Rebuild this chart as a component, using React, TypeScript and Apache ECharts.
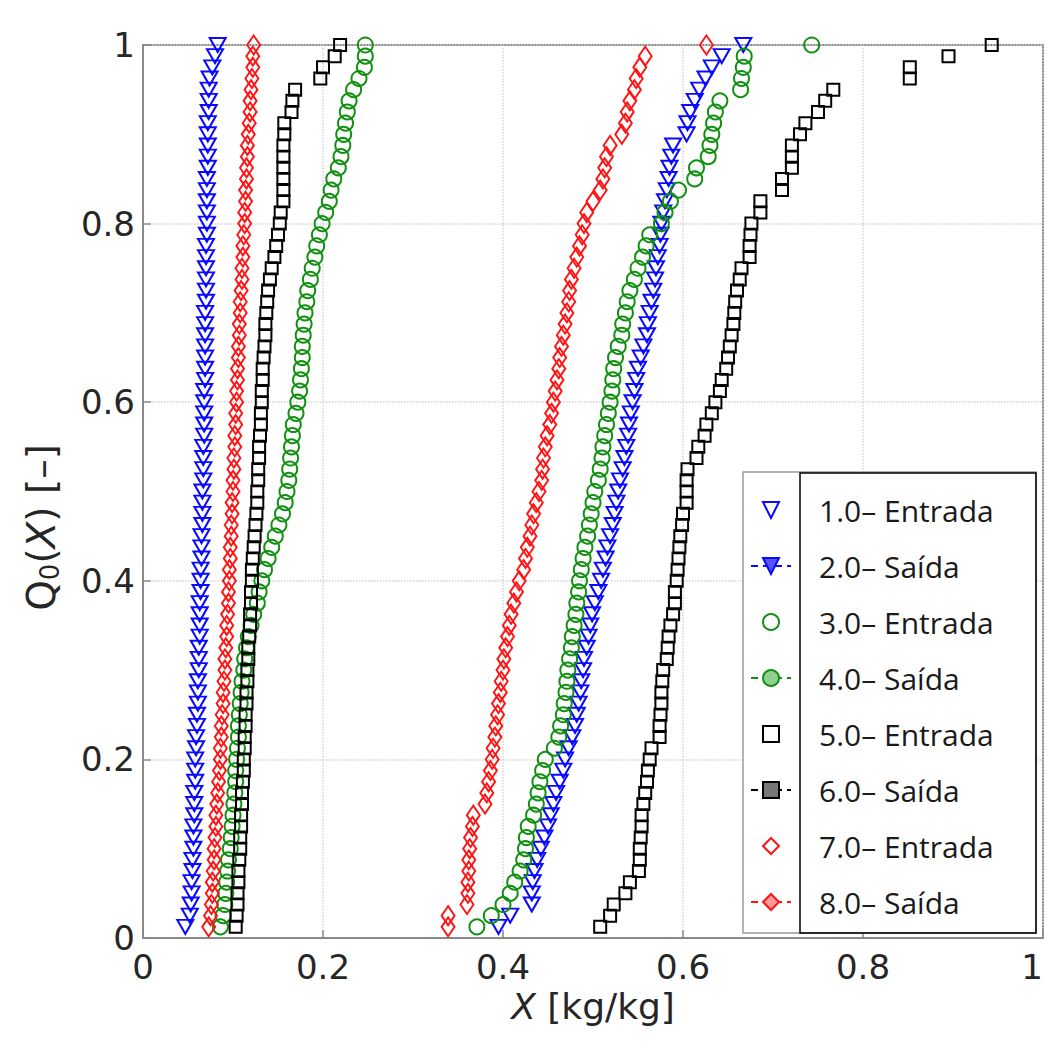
import React, { useEffect, useRef } from "react";
import * as echarts from "echarts";

// Q0(X) levels (empirical cumulative fraction), 80 samples per series
const qLevels = [
  0.0125, 0.025, 0.0375, 0.05, 0.0625, 0.075, 0.0875, 0.1, 0.1125, 0.125,
  0.1375, 0.15, 0.1625, 0.175, 0.1875, 0.2, 0.2125, 0.225, 0.2375, 0.25,
  0.2625, 0.275, 0.2875, 0.3, 0.3125, 0.325, 0.3375, 0.35, 0.3625, 0.375,
  0.3875, 0.4, 0.4125, 0.425, 0.4375, 0.45, 0.4625, 0.475, 0.4875, 0.5,
  0.5125, 0.525, 0.5375, 0.55, 0.5625, 0.575, 0.5875, 0.6, 0.6125, 0.625,
  0.6375, 0.65, 0.6625, 0.675, 0.6875, 0.7, 0.7125, 0.725, 0.7375, 0.75,
  0.7625, 0.775, 0.7875, 0.8, 0.8125, 0.825, 0.8375, 0.85, 0.8625, 0.875,
  0.8875, 0.9, 0.9125, 0.925, 0.9375, 0.95, 0.9625, 0.975, 0.9875, 1,
];

const seriesNames = [
  "1.0– Entrada",
  "2.0– Saída",
  "3.0– Entrada",
  "4.0– Saída",
  "5.0– Entrada",
  "6.0– Saída",
  "7.0– Entrada",
  "8.0– Saída",
];

const x1Entrada = [
  0.395, 0.408, 0.432, 0.432, 0.433, 0.435, 0.438, 0.442, 0.446, 0.45,
  0.453, 0.456, 0.459, 0.463, 0.467, 0.469, 0.473, 0.477, 0.48, 0.482,
  0.484, 0.486, 0.487, 0.489, 0.49, 0.493, 0.495, 0.497, 0.499, 0.502,
  0.506, 0.509, 0.511, 0.514, 0.516, 0.519, 0.522, 0.524, 0.526, 0.528,
  0.53, 0.533, 0.535, 0.537, 0.539, 0.54, 0.542, 0.544, 0.546, 0.548,
  0.55, 0.553, 0.556, 0.56, 0.561, 0.563, 0.565, 0.567, 0.569, 0.57,
  0.572, 0.574, 0.575, 0.576, 0.578, 0.58, 0.582, 0.584, 0.585, 0.587,
  0.589, 0.604, 0.605, 0.608, 0.613, 0.618, 0.625, 0.632, 0.643, 0.667,
];

const x2Saida = [
  0.047, 0.052, 0.053, 0.054, 0.054, 0.055, 0.055, 0.056, 0.056, 0.056,
  0.057, 0.057, 0.057, 0.058, 0.058, 0.058, 0.059, 0.059, 0.06, 0.06,
  0.061, 0.061, 0.061, 0.062, 0.062, 0.062, 0.063, 0.063, 0.063, 0.063,
  0.064, 0.064, 0.064, 0.065, 0.065, 0.065, 0.066, 0.066, 0.066, 0.066,
  0.067, 0.067, 0.067, 0.067, 0.068, 0.068, 0.068, 0.068, 0.068, 0.069,
  0.069, 0.069, 0.069, 0.069, 0.069, 0.069, 0.07, 0.07, 0.07, 0.07,
  0.07, 0.07, 0.071, 0.071, 0.071, 0.071, 0.071, 0.071, 0.072, 0.072,
  0.072, 0.072, 0.072, 0.073, 0.073, 0.073, 0.074, 0.077, 0.08, 0.083,
];

const x3Entrada = [
  0.371, 0.387, 0.4, 0.408, 0.413, 0.419, 0.423, 0.425, 0.426, 0.428,
  0.434, 0.437, 0.439, 0.441, 0.444, 0.447, 0.457, 0.462, 0.464, 0.467,
  0.468, 0.47, 0.471, 0.472, 0.474, 0.476, 0.477, 0.479, 0.481, 0.482,
  0.484, 0.485, 0.487, 0.489, 0.491, 0.494, 0.496, 0.498, 0.5, 0.502,
  0.506, 0.508, 0.51, 0.511, 0.513, 0.515, 0.517, 0.519, 0.521, 0.522,
  0.523, 0.525, 0.528, 0.532, 0.533, 0.536, 0.538, 0.541, 0.546, 0.55,
  0.555, 0.559, 0.563, 0.576, 0.58, 0.586, 0.595, 0.613, 0.615, 0.628,
  0.63, 0.632, 0.634, 0.636, 0.641, 0.664, 0.665, 0.667, 0.668, 0.743,
];

const x4Saida = [
  0.086, 0.089, 0.091, 0.092, 0.093, 0.094, 0.095, 0.097, 0.098, 0.099,
  0.1, 0.101, 0.102, 0.103, 0.103, 0.104, 0.105, 0.106, 0.106, 0.107,
  0.108, 0.109, 0.11, 0.112, 0.113, 0.115, 0.117, 0.12, 0.123, 0.127,
  0.129, 0.132, 0.135, 0.139, 0.143, 0.147, 0.151, 0.155, 0.158, 0.16,
  0.162, 0.163, 0.164, 0.165, 0.166, 0.167, 0.17, 0.172, 0.174, 0.175,
  0.176, 0.177, 0.177, 0.178, 0.179, 0.18, 0.182, 0.183, 0.186, 0.188,
  0.191, 0.193, 0.196, 0.199, 0.203, 0.207, 0.209, 0.212, 0.217, 0.22,
  0.222, 0.223, 0.225, 0.227, 0.229, 0.234, 0.24, 0.246, 0.247, 0.247,
];

const x5Entrada = [
  0.508, 0.519, 0.523, 0.536, 0.541, 0.551, 0.552, 0.552, 0.553, 0.554,
  0.554, 0.556, 0.558, 0.56, 0.561, 0.563, 0.565, 0.574, 0.574, 0.575,
  0.576, 0.576, 0.577, 0.578, 0.582, 0.583, 0.584, 0.586, 0.589, 0.591,
  0.591, 0.593, 0.594, 0.595, 0.596, 0.597, 0.599, 0.6, 0.604, 0.604,
  0.604, 0.605, 0.615, 0.617, 0.624, 0.626, 0.632, 0.636, 0.641, 0.643,
  0.648, 0.65, 0.652, 0.654, 0.656, 0.657, 0.658, 0.66, 0.663, 0.665,
  0.674, 0.674, 0.675, 0.676, 0.686, 0.686, 0.71, 0.71, 0.721, 0.721,
  0.721, 0.73, 0.736, 0.75, 0.758, 0.767, 0.852, 0.852, 0.895, 0.943,
];

const x6Saida = [
  0.103, 0.104, 0.105, 0.105, 0.106, 0.106, 0.107, 0.108, 0.108, 0.109,
  0.109, 0.11, 0.11, 0.111, 0.112, 0.112, 0.113, 0.113, 0.114, 0.114,
  0.115, 0.115, 0.116, 0.116, 0.117, 0.117, 0.118, 0.119, 0.119, 0.12,
  0.12, 0.121, 0.121, 0.122, 0.123, 0.124, 0.125, 0.126, 0.127, 0.127,
  0.128, 0.128, 0.129, 0.129, 0.13, 0.131, 0.131, 0.132, 0.132, 0.133,
  0.133, 0.134, 0.135, 0.136, 0.136, 0.137, 0.138, 0.139, 0.141, 0.143,
  0.146, 0.148, 0.15, 0.152, 0.153, 0.156, 0.156, 0.156, 0.156, 0.156,
  0.156, 0.157, 0.157, 0.165, 0.166, 0.169, 0.197, 0.2, 0.213, 0.219,
];

const x7Entrada = [
  0.339, 0.339, 0.36, 0.361, 0.361, 0.362, 0.362, 0.363, 0.364, 0.366,
  0.367, 0.38, 0.382, 0.384, 0.386, 0.388, 0.389, 0.391, 0.392, 0.394,
  0.395, 0.397, 0.398, 0.4, 0.401, 0.403, 0.405, 0.407, 0.409, 0.412,
  0.415, 0.418, 0.423, 0.425, 0.427, 0.43, 0.432, 0.434, 0.437, 0.44,
  0.443, 0.444, 0.445, 0.447, 0.449, 0.452, 0.454, 0.456, 0.458, 0.46,
  0.462, 0.463, 0.465, 0.467, 0.469, 0.471, 0.473, 0.474, 0.476, 0.479,
  0.482, 0.485, 0.488, 0.49, 0.493, 0.5, 0.508, 0.511, 0.513, 0.515,
  0.519, 0.532, 0.536, 0.538, 0.541, 0.546, 0.548, 0.552, 0.558, 0.626,
];

const x8Saida = [
  0.073, 0.075, 0.076, 0.077, 0.077, 0.078, 0.079, 0.079, 0.08, 0.081,
  0.081, 0.082, 0.083, 0.084, 0.085, 0.086, 0.086, 0.087, 0.087, 0.088,
  0.089, 0.089, 0.09, 0.091, 0.091, 0.092, 0.093, 0.093, 0.094, 0.095,
  0.095, 0.096, 0.096, 0.097, 0.097, 0.098, 0.098, 0.099, 0.099, 0.1,
  0.1, 0.101, 0.101, 0.102, 0.102, 0.103, 0.103, 0.104, 0.104, 0.105,
  0.105, 0.106, 0.106, 0.107, 0.107, 0.108, 0.108, 0.109, 0.11, 0.11,
  0.111, 0.111, 0.112, 0.113, 0.113, 0.114, 0.114, 0.115, 0.115, 0.116,
  0.116, 0.117, 0.118, 0.119, 0.119, 0.12, 0.121, 0.122, 0.122, 0.123,
];

const xValues = [x1Entrada, x2Saida, x3Entrada, x4Saida, x5Entrada, x6Saida, x7Entrada, x8Saida];

const BLUE = "#0a0aff";
const GREEN = "#119011";
const BLACK = "#000000";
const RED = "#ff1414";

const styles = [
  { color: BLUE, symbol: "triangle", rotate: 180, size: [16, 14], fill: "rgba(0,0,0,0)" },
  { color: BLUE, symbol: "triangle", rotate: 180, size: [16, 14], fill: "#5555ff" },
  { color: GREEN, symbol: "circle", rotate: 0, size: [15, 15], fill: "rgba(0,0,0,0)" },
  { color: GREEN, symbol: "circle", rotate: 0, size: [15, 15], fill: "#8fd08f" },
  { color: BLACK, symbol: "rect", rotate: 0, size: [12, 12], fill: "rgba(0,0,0,0)" },
  { color: BLACK, symbol: "rect", rotate: 0, size: [12, 12], fill: "#777777" },
  { color: RED, symbol: "diamond", rotate: 0, size: [13, 19], fill: "rgba(0,0,0,0)" },
  { color: RED, symbol: "diamond", rotate: 0, size: [13, 19], fill: "#ff9a9a" },
];

const AXIS_GRAY = "#8a8a8a";
const TEXT_DARK = "#262626";

export default function App() {
  const ref = useRef<HTMLDivElement>(null);

  useEffect(() => {
    if (!ref.current) return;
    const chart = echarts.init(ref.current, null, { renderer: "svg" });

    const series = seriesNames.map((name, k) => {
      const st = styles[k];
      return {
        type: "line",
        name,
        data: qLevels.map((q, i) => [xValues[k][i], q]),
        symbol: st.symbol,
        symbolSize: st.size,
        symbolRotate: st.rotate,
        showSymbol: true,
        showAllSymbol: true,
        lineStyle: { opacity: 0, width: 0 },
        itemStyle: { color: "rgba(0,0,0,0)", borderColor: st.color, borderWidth: 2 },
        emphasis: { disabled: true },
        silent: true,
        clip: false,
        z: 2,
      };
    });

    const legendData = seriesNames.map((name, k) => {
      const st = styles[k];
      const saida = k % 2 === 1;
      return {
        name,
        itemStyle: { color: st.fill, borderColor: st.color, borderWidth: 2 },
        lineStyle: saida
          ? { opacity: 1, type: [7, 5], width: 2, color: st.color }
          : { opacity: 0, width: 0 },
      };
    });

    const option = {
      animation: false,
      backgroundColor: "#ffffff",
      grid: {
        left: 143,
        right: 9,
        top: 45,
        bottom: 110,
        show: true,
        borderColor: AXIS_GRAY,
        borderWidth: 2,
        backgroundColor: "#ffffff",
        outerBoundsMode: "none",
      },
      xAxis: {
        type: "value",
        min: 0,
        max: 1,
        interval: 0.2,
        name: "{it|X} [kg/kg]",
        nameLocation: "middle",
        nameGap: 50,
        nameTextStyle: {
          fontFamily: "DejaVu Sans",
          fontSize: 36,
          color: TEXT_DARK,
          rich: {
            it: { fontFamily: "DejaVu Sans", fontSize: 36, fontStyle: "italic", color: TEXT_DARK },
          },
        },
        axisLine: { show: true, lineStyle: { color: AXIS_GRAY, width: 2 } },
        axisTick: { show: true, inside: true, length: 8, lineStyle: { color: AXIS_GRAY, width: 1.5 } },
        axisLabel: {
          margin: 12,
          fontFamily: "DejaVu Sans",
          fontSize: 34,
          color: TEXT_DARK,
          alignMaxLabel: "right",
          padding: [0, 0, 0, 0],
        },
        splitLine: { show: true, lineStyle: { color: "#d4d4d4", type: "dotted", width: 1.5 } },
      },
      yAxis: {
        type: "value",
        min: 0,
        max: 1,
        interval: 0.2,
        name: "Q{sub|0}({it|X}) [–]",
        nameLocation: "middle",
        nameGap: 80,
        nameTextStyle: {
          fontFamily: "DejaVu Sans",
          fontSize: 39,
          color: TEXT_DARK,
          padding: [0, 72, 0, 0],
          rich: {
            sub: { fontFamily: "DejaVu Sans", fontSize: 26, color: TEXT_DARK, padding: [18, 0, 0, 0] },
            it: { fontFamily: "DejaVu Sans", fontSize: 39, fontStyle: "italic", color: TEXT_DARK },
          },
        },
        axisLine: { show: true, lineStyle: { color: AXIS_GRAY, width: 2 } },
        axisTick: { show: true, inside: true, length: 8, lineStyle: { color: AXIS_GRAY, width: 1.5 } },
        axisLabel: {
          margin: 8,
          fontFamily: "DejaVu Sans",
          fontSize: 34,
          color: TEXT_DARK,
        },
        splitLine: { show: true, lineStyle: { color: "#d4d4d4", type: "dotted", width: 1.5 } },
      },
      legend: {
        show: true,
        orient: "vertical",
        left: 750,
        top: 495,
        padding: 0,
        itemWidth: 40,
        itemHeight: 20,
        itemGap: 26,
        selectedMode: false,
        z: 10,
        data: legendData,
        textStyle: {
          fontFamily: "Open Sans",
          fontSize: 30,
          lineHeight: 30,
          color: "#1a1a1a",
          padding: [0, 0, 0, 23],
        },
      },
      graphic: [
        {
          type: "rect",
          z: 5,
          shape: { x: 743, y: 472, width: 293, height: 461 },
          style: { fill: "#ffffff", stroke: "#9a9a9a", lineWidth: 1.5 },
        },
        {
          type: "rect",
          z: 6,
          shape: { x: 800, y: 473, width: 236, height: 460 },
          style: { fill: "none", stroke: "#000000", lineWidth: 1.5 },
        },
      ],
      series,
    };

    chart.setOption(option as any);
    return () => chart.dispose();
  }, []);

  return (
    <div
      ref={ref}
      style={{ position: "fixed", left: 0, top: 0, width: 1052, height: 1048, background: "#ffffff" }}
    />
  );
}
